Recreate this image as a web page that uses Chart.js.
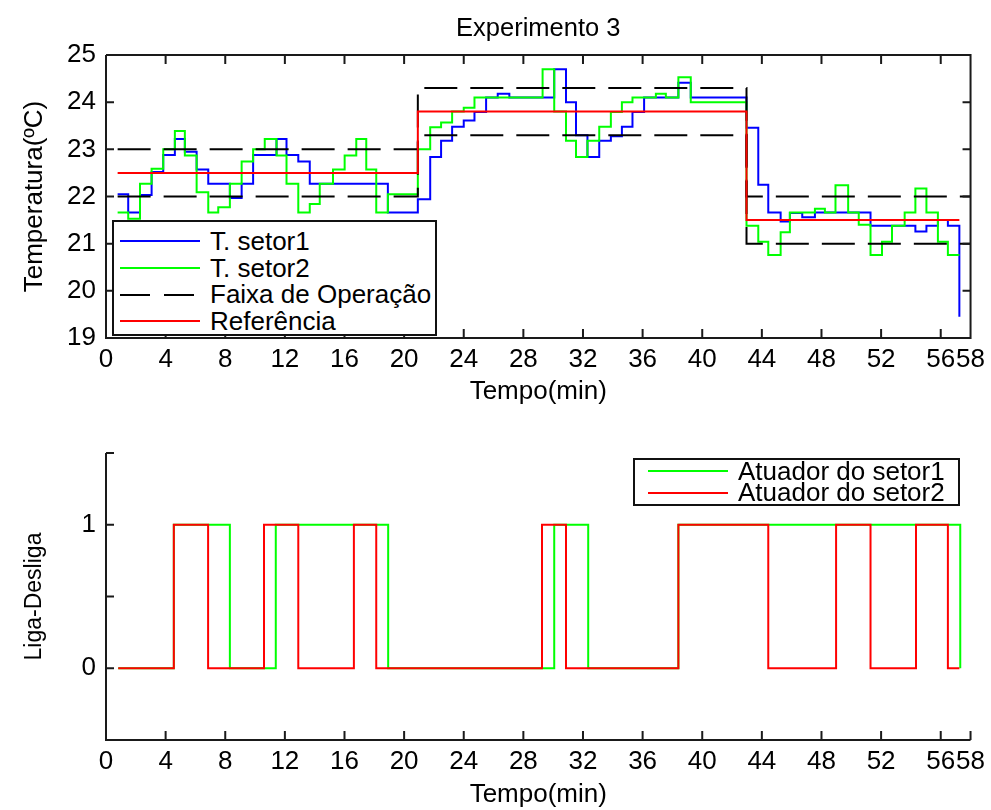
<!DOCTYPE html>
<html>
<head>
<meta charset="utf-8">
<script src="https://cdn.jsdelivr.net/npm/chart.js@4.4.0/dist/chart.umd.min.js"></script>
<style>
  html, body { margin: 0; padding: 0; background: #fff; }
  body { width: 991px; height: 810px; position: relative; overflow: hidden; font-family: "Liberation Sans", Arial, sans-serif; }
  .painel { position: absolute; left: 0; width: 991px; }
  .legenda { position: absolute; background: #fff; border: 2px solid #111; box-sizing: border-box; font-size: 26px; color: #000; }
  .legenda .item { display: flex; align-items: center; white-space: nowrap; }
  .legenda .amostra { height: 2px; flex: none; }
</style>
</head>
<body>
<div class="painel" style="top:0;height:410px">
  <canvas id="grafTemp" width="991" height="410"></canvas>
  <div class="legenda" id="leg1" style="left:112px;top:220px;width:325px;height:116px;padding-top:6px"></div>
</div>
<div class="painel" style="top:410px;height:400px">
  <canvas id="grafAtuador" width="991" height="400"></canvas>
  <div class="legenda" id="leg2" style="left:633px;top:48.3px;width:327px;height:47.7px;padding-top:0"></div>
</div>
<script>
// tempos (min) onde cada degrau começa; o último é o fim da série
const tempo = [0.78, 1.49, 2.28, 3.06, 3.84, 4.62, 5.29, 6.08, 6.86, 7.53, 8.31, 9.1, 9.87, 10.65, 11.44, 12.11, 12.9, 13.67, 14.34, 15.23, 16.01, 16.79, 17.46, 18.13, 18.91,
  20.92, 21.75, 22.48, 23.22, 24.0, 24.72, 25.5, 26.28, 27.06, 29.29, 30.07, 30.86, 31.53, 32.3, 33.09, 33.87, 34.61, 35.32, 36.1, 36.89, 37.56, 38.4, 39.23,
  42.97, 43.76, 44.43, 45.26, 45.88, 46.71, 47.56, 48.23, 48.94, 49.79, 50.5, 51.29, 52.06, 52.73, 53.58, 54.3, 55.04, 55.81, 56.48, 57.25];
const setor1 = [22.05, 21.66, 22.03, 22.52, 22.88, 23.22, 22.95, 22.57, 22.27, 22.27, 21.97, 22.27, 22.88, 22.88, 23.22, 22.88, 22.74, 22.27, 22.27, 22.27, 22.27, 22.27, 22.27, 22.27, 21.66,
  21.94, 22.84, 23.18, 23.48, 23.61, 23.79, 24.1, 24.18, 24.1, 24.1, 24.7, 24.0, 23.3, 22.84, 23.18, 23.28, 23.48, 23.79, 24.1, 24.1, 24.1, 24.41, 24.1,
  23.46, 22.25, 21.66, 21.47, 21.65, 21.56, 21.66, 21.66, 21.66, 21.66, 21.66, 21.38, 21.38, 21.38, 21.38, 21.26, 21.38, 21.5, 21.38, 19.45];
const setor2 = [21.66, 21.53, 22.27, 22.59, 23.0, 23.39, 22.87, 22.09, 21.66, 21.77, 22.27, 22.74, 23.0, 23.22, 22.87, 22.27, 21.66, 21.84, 22.27, 22.57, 22.87, 23.22, 22.57, 21.66, 22.05,
  23.0, 23.47, 23.57, 23.8, 23.88, 24.1, 24.1, 24.1, 24.1, 24.7, 23.8, 23.18, 22.84, 23.18, 23.48, 23.79, 24.0, 24.1, 24.1, 24.18, 24.1, 24.53, 24.0,
  21.38, 21.04, 20.76, 21.24, 21.66, 21.66, 21.74, 21.66, 22.24, 21.66, 21.4, 20.76, 21.04, 21.38, 21.66, 22.17, 21.66, 21.04, 20.76, 20.76];

const tempoRef = [0.78, 20.92, 42.97, 57.25];
const referencia = [22.5, 23.8, 21.5, 21.5];
const tempoFaixa = [0.78, 20.92, 42.97, 58];
const faixaSup = [23, 24.3, 22, 22];
const faixaInf = [22, 23.3, 21, 21];

const tempoAtuador1 = [0.82, 4.55, 8.31, 11.39, 18.93, 30.07, 32.35, 38.4, 57.31];
const atuador1 = [0, 1, 0, 1, 0, 1, 0, 1, 0];
const tempoAtuador2 = [0.82, 4.55, 6.85, 10.6, 12.9, 16.63, 18.13, 29.25, 30.86, 38.4, 44.43, 48.98, 51.29, 54.34, 56.48, 57.25];
const atuador2 = [0, 1, 0, 1, 0, 1, 0, 1, 0, 1, 0, 1, 0, 1, 0, 0];

const ticksX = [0, 4, 8, 12, 16, 20, 24, 28, 32, 36, 40, 44, 48, 52, 56, 58];
const ticksTemp = [19, 20, 21, 22, 23, 24, 25];
const ticksLiga = [-0.5, 0, 0.5, 1, 1.5];
const rotulosLiga = [0, 1];

Chart.defaults.font.family = '"Liberation Sans", Arial, sans-serif';
Chart.defaults.color = '#000';

function pontos(xs, ys) {
  return xs.map((t, i) => ({x: t, y: ys[i]}));
}

// eixos e marcas de escala para dentro, como no MATLAB
const eixosInternos = {
  id: 'eixosInternos',
  afterDraw(chart, args, opts) {
    const {ctx, chartArea: a} = chart;
    const x = chart.scales.x, y = chart.scales.y;
    ctx.save();
    ctx.strokeStyle = '#1a1a1a';
    ctx.lineWidth = 2;
    ctx.beginPath();
    ctx.moveTo(a.left, a.top);
    ctx.lineTo(a.left, a.bottom);
    ctx.lineTo(a.right, a.bottom);
    if (opts.caixa) {
      ctx.lineTo(a.right, a.top);
      ctx.lineTo(a.left, a.top);
    }
    x.ticks.forEach(t => {
      const px = x.getPixelForValue(t.value);
      ctx.moveTo(px, a.bottom); ctx.lineTo(px, a.bottom - 9);
      if (opts.caixa) { ctx.moveTo(px, a.top); ctx.lineTo(px, a.top + 9); }
    });
    y.ticks.forEach(t => {
      const py = y.getPixelForValue(t.value);
      ctx.moveTo(a.left, py); ctx.lineTo(a.left + 8, py);
      if (opts.caixa) { ctx.moveTo(a.right, py); ctx.lineTo(a.right - 8, py); }
    });
    ctx.stroke();
    ctx.restore();
  }
};

function eixoX(alturaEixo, padTitulo) {
  return {
    type: 'linear', min: 0, max: 58,
    afterBuildTicks: s => { s.ticks = ticksX.map(v => ({value: v})); },
    afterFit: s => { s.height = alturaEixo; },
    ticks: {autoSkip: false, maxRotation: 0, minRotation: 0, padding: 6, font: {size: 26}},
    grid: {display: false, drawTicks: false},
    border: {display: false},
    title: {display: true, text: 'Tempo(min)', font: {size: 26}, padding: {top: 0, bottom: padTitulo}}
  };
}

const tempChart = new Chart(document.getElementById('grafTemp'), {
  type: 'line',
  data: {
    datasets: [
      {label: 'T. setor1', data: pontos(tempo, setor1), borderColor: '#0000ff', order: 4},
      {label: 'T. setor2', data: pontos(tempo, setor2), borderColor: '#00ff00', order: 3},
      {label: 'Faixa de Operação', data: pontos(tempoFaixa, faixaSup), borderColor: '#000', borderDash: [33, 13], order: 2},
      {label: '', data: pontos(tempoFaixa, faixaInf), borderColor: '#000', borderDash: [33, 13], order: 2},
      {label: 'Referência', data: pontos(tempoRef, referencia), borderColor: '#ff0000', order: 1}
    ]
  },
  options: {
    responsive: false,
    animation: false,
    events: [],
    layout: {padding: {left: 0, right: 19, top: 0, bottom: 0}},
    elements: {point: {radius: 0}, line: {borderWidth: 2, stepped: true, fill: false}},
    plugins: {legend: {display: false}, tooltip: {enabled: false}, eixosInternos: {caixa: true}},
    scales: {
      x: eixoX(72, 2.5),
      xTopo: {
        type: 'linear', position: 'top', min: 0, max: 58,
        afterFit: s => { s.height = 55; },
        ticks: {display: false},
        grid: {display: false, drawTicks: false},
        border: {display: false},
        title: {display: true, text: 'Experimento 3', font: {size: 25.5}, padding: {top: 14, bottom: 0}}
      },
      y: {
        type: 'linear', min: 19, max: 25,
        afterBuildTicks: s => { s.ticks = ticksTemp.map(v => ({value: v})); },
        afterFit: s => { s.width = 106; },
        ticks: {padding: 10, font: {size: 26}},
        grid: {display: false, drawTicks: false},
        border: {display: false},
        title: {display: true, text: 'Temperatura(ºC)', font: {size: 26}, padding: {top: 19.4, bottom: 0}}
      }
    }
  },
  plugins: [eixosInternos]
});

const atuadorChart = new Chart(document.getElementById('grafAtuador'), {
  type: 'line',
  data: {
    datasets: [
      {label: 'Atuador do setor1', data: pontos(tempoAtuador1, atuador1), borderColor: '#00ff00', order: 2},
      {label: 'Atuador do setor2', data: pontos(tempoAtuador2, atuador2), borderColor: '#ff0000', order: 1}
    ]
  },
  options: {
    responsive: false,
    animation: false,
    events: [],
    layout: {padding: {left: 0, right: 19, top: 43, bottom: 0}},
    elements: {point: {radius: 0}, line: {borderWidth: 2, stepped: true, fill: false}},
    plugins: {legend: {display: false}, tooltip: {enabled: false}, eixosInternos: {caixa: false}},
    scales: {
      x: eixoX(70, 0),
      y: {
        type: 'linear', min: -0.5, max: 1.5,
        afterBuildTicks: s => { s.ticks = ticksLiga.map(v => ({value: v})); },
        afterFit: s => { s.width = 106; },
        ticks: {padding: 10, font: {size: 26}, callback: v => rotulosLiga.includes(v) ? String(v) : ''},
        grid: {display: false, drawTicks: false},
        border: {display: false},
        title: {display: true, text: 'Liga-Desliga', font: {size: 23}, padding: {top: 20.9, bottom: 0}}
      }
    }
  },
  plugins: [eixosInternos]
});

// legendas em caixa, montadas a partir dos datasets
function montaLegenda(chart, el, alturaLinha, recuo, larguraAmostra, espaco) {
  chart.data.datasets.filter(d => d.label).forEach(d => {
    const item = document.createElement('div');
    item.className = 'item';
    item.style.height = alturaLinha + 'px';
    const amostra = document.createElement('span');
    amostra.className = 'amostra';
    amostra.style.marginLeft = recuo + 'px';
    amostra.style.width = larguraAmostra + 'px';
    if (d.borderDash) {
      amostra.style.background = 'repeating-linear-gradient(to right, ' + d.borderColor + ' 0 30px, transparent 30px 44px)';
    } else {
      amostra.style.background = d.borderColor;
    }
    const texto = document.createElement('span');
    texto.textContent = d.label;
    texto.style.marginLeft = espaco + 'px';
    item.appendChild(amostra);
    item.appendChild(texto);
    el.appendChild(item);
  });
}
montaLegenda(tempChart, document.getElementById('leg1'), 26.7, 6, 80, 10);
montaLegenda(atuadorChart, document.getElementById('leg2'), 21.6, 13, 80, 10);
</script>
</body>
</html>
